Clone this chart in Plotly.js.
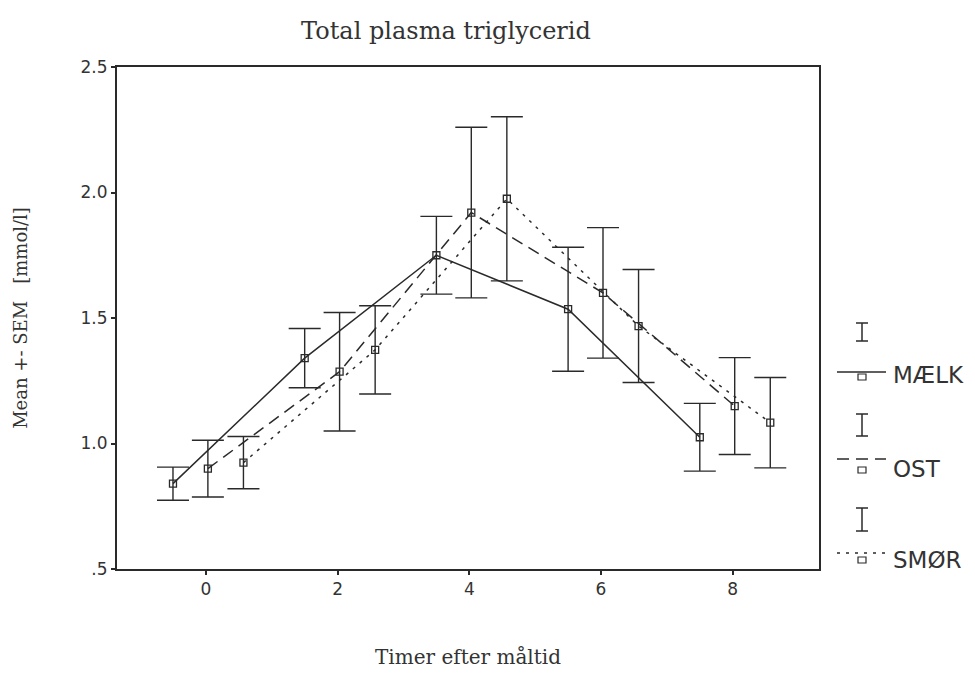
<!DOCTYPE html>
<html>
<head>
<meta charset="utf-8">
<script src="https://cdn.plot.ly/plotly-3.0.1.min.js"></script>
<style>html,body{margin:0;padding:0;background:#fff;}#chart{width:975px;height:673px;}</style>
</head>
<body>
<div id="chart"></div>
<script>
// ---- data ----
const hours = [0, 2, 4, 6, 8];
const seriesNames = ['MÆLK', 'OST', 'SMØR'];
const maelkMean = [0.84, 1.34, 1.75, 1.535, 1.025];
const maelkSem  = [0.066, 0.118, 0.155, 0.247, 0.135];
const ostMean   = [0.90, 1.286, 1.92, 1.60, 1.149];
const ostSem    = [0.113, 0.236, 0.34, 0.26, 0.193];
const smorMean  = [0.924, 1.373, 1.975, 1.468, 1.083];
const smorSem   = [0.104, 0.176, 0.327, 0.225, 0.18];
const yTickVals = [0.5, 1.0, 1.5, 2.0, 2.5];
const yTickText = ['.5', '1.0', '1.5', '2.0', '2.5'];
const xTickVals = [0, 2, 4, 6, 8];
const xTickText = ['0', '2', '4', '6', '8'];

// ---- styling ----
const ink = '#2a2a2a';
const dodge = [-0.5, 0.03, 0.57];
const dashes = ['solid', '12px,7px', '3px,6px'];
const means = [maelkMean, ostMean, smorMean];
const sems = [maelkSem, ostSem, smorSem];

const traces = seriesNames.map((name, i) => ({
  type: 'scatter',
  mode: 'lines+markers',
  name: name,
  x: hours.map(h => h + dodge[i]),
  y: means[i],
  line: {color: ink, width: 1.5, dash: dashes[i]},
  marker: {symbol: 'square-open', size: 7, color: ink, line: {width: 1.3, color: ink}},
  error_y: {type: 'data', array: sems[i], visible: true, color: ink, thickness: 1.4, width: 16},
  showlegend: false
}));

// plot area in pixels
const L = 117, R = 156, T = 67, B = 104, W = 975, H = 673;
const pw = W - L - R, ph = H - T - B;
const px = x => (x - L) / pw;
const py = y => (H - B - y) / ph;

// custom legend (error-bar glyph, line sample, square, label)
const shapes = [];
const annotations = [];
const legendRows = [
  {iTop: 323, iBot: 341, lineY: 372, sqY: 377, labY: 375},
  {iTop: 414, iBot: 436, lineY: 459, sqY: 470, labY: 469},
  {iTop: 508, iBot: 531, lineY: 553, sqY: 560, labY: 560}
];
const lx0 = 837, lx1 = 886, lxc = 862;
legendRows.forEach((r, i) => {
  const ln = {color: ink, width: 1.5};
  shapes.push({type: 'line', xref: 'paper', yref: 'paper', x0: px(lxc), x1: px(lxc), y0: py(r.iTop), y1: py(r.iBot), line: ln});
  shapes.push({type: 'line', xref: 'paper', yref: 'paper', x0: px(lxc - 6), x1: px(lxc + 6), y0: py(r.iTop), y1: py(r.iTop), line: ln});
  shapes.push({type: 'line', xref: 'paper', yref: 'paper', x0: px(lxc - 6), x1: px(lxc + 6), y0: py(r.iBot), y1: py(r.iBot), line: ln});
  shapes.push({type: 'line', xref: 'paper', yref: 'paper', x0: px(lx0), x1: px(lx1), y0: py(r.lineY), y1: py(r.lineY),
    line: {color: ink, width: 1.5, dash: dashes[i]}});
  shapes.push({type: 'rect', xref: 'paper', yref: 'paper', x0: px(lxc - 4), x1: px(lxc + 4), y0: py(r.sqY - 3), y1: py(r.sqY + 3),
    line: {color: ink, width: 1.2}, fillcolor: '#fff'});
  annotations.push({xref: 'paper', yref: 'paper', x: px(891), y: py(r.labY), xanchor: 'left', yanchor: 'middle',
    text: seriesNames[i], showarrow: false, font: {family: 'DejaVu Sans', size: 23, color: '#333'}});
});

const axisCommon = {
  showline: true, linecolor: ink, linewidth: 2, mirror: true,
  showgrid: false, zeroline: false, ticks: 'outside', ticklen: 4, tickwidth: 2, tickcolor: ink,
  tickfont: {family: 'DejaVu Sans', size: 17, color: '#333'}
};

const layout = {
  width: W, height: H,
  margin: {l: L, r: R, t: T, b: B},
  paper_bgcolor: '#fff', plot_bgcolor: '#fff',
  title: {text: 'Total plasma triglycerid', font: {family: 'DejaVu Serif', size: 24, color: '#333'},
    x: 446 / W, xanchor: 'center', y: 1 - 31 / H, yanchor: 'middle', xref: 'container', yref: 'container'},
  xaxis: Object.assign({}, axisCommon, {
    range: [-1.35, 9.31], tickmode: 'array', tickvals: xTickVals, ticktext: xTickText,
    title: {text: 'Timer efter måltid', font: {family: 'DejaVu Serif', size: 20, color: '#333'}, standoff: 52}
  }),
  yaxis: Object.assign({}, axisCommon, {
    range: [0.5, 2.5], tickmode: 'array', tickvals: yTickVals, ticktext: yTickText,
    title: {text: 'Mean +- SEM\u00a0\u00a0\u00a0[mmol/l]', font: {family: 'DejaVu Serif', size: 18, color: '#333'}, standoff: 48}
  }),
  shapes: shapes,
  annotations: annotations,
  showlegend: false
};

Plotly.newPlot('chart', traces, layout, {displayModeBar: false, staticPlot: true});
</script>
</body>
</html>
